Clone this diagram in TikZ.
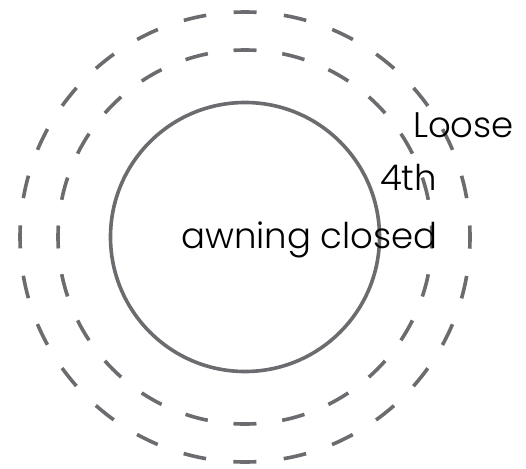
\documentclass[tikz,border=0pt]{standalone}
\usepackage{fontspec}
\setmainfont{Poppins Light}
\usepackage{xcolor}
\usepackage{tikz}
\usetikzlibrary{positioning}
\definecolor{ringgray}{RGB}{108,108,112}

\begin{document}
\begin{tikzpicture}[x=1pt, y=-1pt,
    ring/.style={line width=3.6pt, ringgray},
    outerring/.style={ring, dash pattern=on 23pt off 27.49pt, dash phase=11.5pt},
    midring/.style={ring, dash pattern=on 23pt off 25.96pt, dash phase=11.5pt},
    label/.style={anchor=base west, inner sep=0pt, font=\fontsize{35.5}{40}\selectfont}
]
\useasboundingbox (0,0) rectangle (526,468);
\coordinate (c) at (245,237);
\draw[outerring] (c) circle[radius=225pt];
\draw[midring] (c) circle[radius=187pt];
\draw[ring] (c) circle[radius=134.5pt];
\node[label] (loose) at (413,137) {Loose};
\node[label] (fourth) at (380,190) {4th};
\node[label] (awning) at (181,248) {awning closed};
\end{tikzpicture}
\end{document}
